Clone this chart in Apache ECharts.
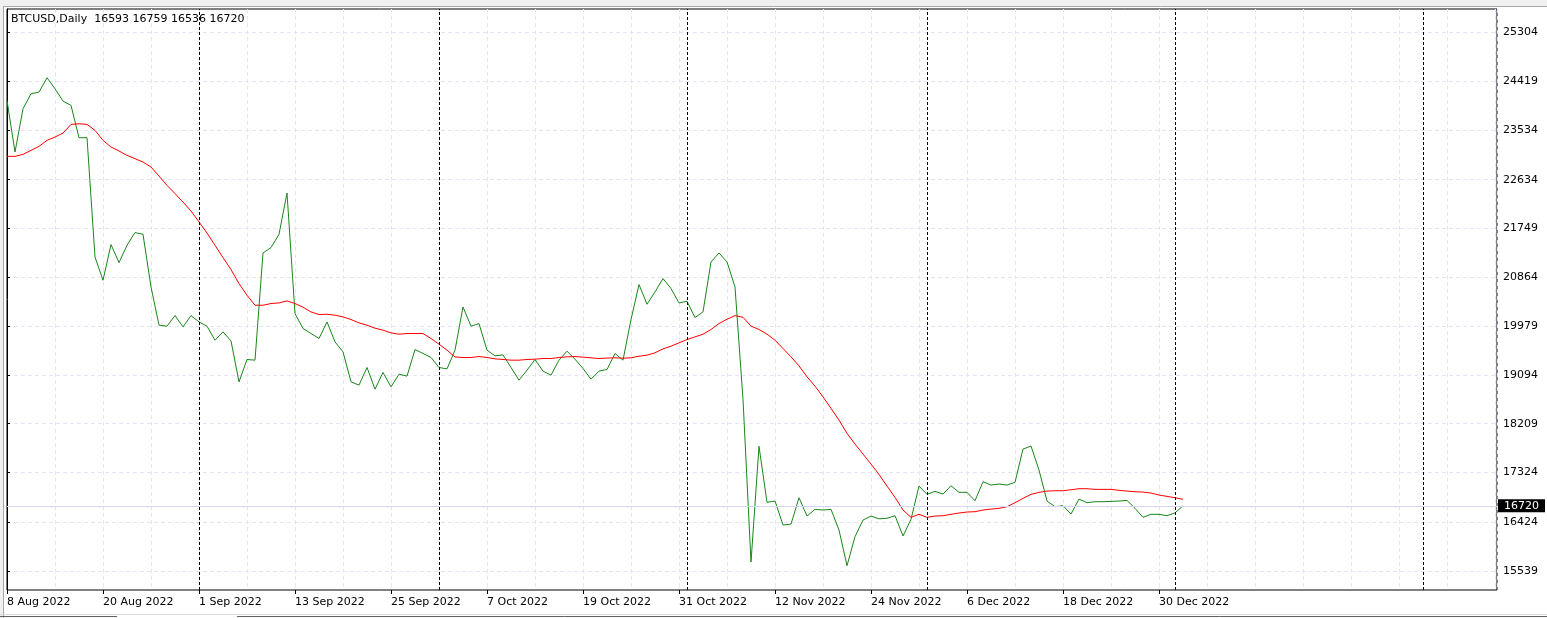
<!DOCTYPE html>
<html><head><meta charset="utf-8">
<script src="https://cdn.jsdelivr.net/npm/echarts@6/dist/echarts.min.js"></script>
<style>html,body{margin:0;padding:0;background:#fff;overflow:hidden}#c{width:1547px;height:618px}</style>
</head><body><div id="c"></div><script>
const headerText = 'BTCUSD,Daily  16593 16759 16536 16720';
// x tick labels, one every 12 daily bars starting at bar 0
const xTickLabels = ['8 Aug 2022','20 Aug 2022','1 Sep 2022','13 Sep 2022','25 Sep 2022','7 Oct 2022','19 Oct 2022','31 Oct 2022','12 Nov 2022','24 Nov 2022','6 Dec 2022','18 Dec 2022','30 Dec 2022'];
const yTickValues = [15539,16424,17324,18209,19094,19979,20864,21749,22634,23534,24419,25304];
// daily closes (bar 0 = 8 Aug 2022)
const closePrices = [24072,23136,23922,24193,24223,24483,24284,24060,23982,23396,
23396,21233,20811,21458,21131,21445,21676,21644,20690,19996,
19978,20171,19965,20171,20056,19978,19724,19875,19711,18968,
19374,19362,21306,21403,21644,22392,20207,19936,19845,19755,
20056,19693,19512,18968,18909,19229,18836,19139,18878,19108,
19072,19555,19483,19411,19229,19204,19543,20327,19978,20026,
19543,19440,19458,19229,18999,19181,19374,19163,19090,19362,
19525,19380,19211,19017,19163,19193,19483,19362,20099,20733,
20376,20599,20842,20661,20400,20430,20135,20237,21143,21306,
21143,20690,18650,15700,17800,16784,16807,16372,16390,16867,
16535,16657,16644,16657,16282,15635,16160,16463,16535,16485,
16494,16541,16173,16476,17079,16928,16983,16934,17085,16965,
16965,16813,17157,17097,17115,17097,17146,17750,17804,17369,
16807,16704,16722,16572,16843,16777,16795,16795,16801,16807,
16819,16675,16512,16566,16566,16541,16593,16720];
// moving average line
const movingAverage = [23058,23058,23094,23166,23239,23348,23408,23480,23637,23649,
23637,23529,23348,23227,23155,23076,23016,22955,22864,22700,
22532,22382,22230,22067,21868,21668,21445,21222,21005,20751,
20539,20358,20358,20389,20400,20436,20389,20322,20237,20189,
20195,20177,20147,20099,20038,19996,19942,19906,19857,19833,
19845,19845,19845,19755,19652,19543,19420,19410,19410,19428,
19410,19386,19374,19362,19362,19374,19380,19392,19392,19410,
19422,19428,19416,19404,19392,19400,19404,19398,19404,19434,
19452,19495,19567,19615,19676,19736,19784,19833,19918,20026,
20104,20170,20140,19980,19918,19833,19724,19573,19422,19259,
19060,18891,18697,18487,18275,18034,17840,17659,17478,17290,
17079,16874,16644,16512,16566,16512,16535,16541,16566,16590,
16608,16614,16644,16662,16675,16704,16777,16856,16928,16965,
16988,16994,16994,17012,17031,17031,17019,17019,17019,17001,
16988,16976,16970,16952,16916,16892,16867,16838];
// bars where a new month starts (period separators)
const monthSeparators = [24,54,85,115,146,177];
const lastPrice = 16720;

const FONT = 'DejaVu Sans';
const FS = 11;
const chart = echarts.init(document.getElementById('c'), null, {renderer:'canvas'});
const xLabelValues = xTickLabels.map((_, k) => k * 12);
chart.setOption({
  animation: false,
  backgroundColor: '#fff',
  textStyle: {fontFamily: FONT},
  grid: {left: 7, right: 50, top: 9, bottom: 28, show: true, borderColor: '#000', borderWidth: 1, backgroundColor: 'transparent'},
  graphic: [
    {type:'rect', shape:{x:0,y:0,width:1547,height:6}, style:{fill:'#f0f0f0'}, silent:true},
    {type:'line', shape:{x1:0,y1:6.5,x2:1547,y2:6.5}, style:{stroke:'#a8a8a8',lineWidth:1}, silent:true},
    {type:'rect', shape:{x:0,y:0,width:3,height:618}, style:{fill:'#f0f0f0'}, silent:true},
    {type:'line', shape:{x1:3.5,y1:6,x2:3.5,y2:618}, style:{stroke:'#a8a8a8',lineWidth:1}, silent:true},
    {type:'line', shape:{x1:0,y1:614.5,x2:1547,y2:614.5}, style:{stroke:'#d8d8d8',lineWidth:1}, silent:true},
    {type:'line', shape:{x1:0,y1:616.5,x2:117,y2:616.5}, style:{stroke:'#606060',lineWidth:1}, silent:true},
    {type:'line', shape:{x1:237,y1:616.5,x2:1547,y2:616.5}, style:{stroke:'#606060',lineWidth:1}, silent:true},
    {type:'text', left: 11, top: 14, z: 100, style:{text: headerText, fill:'#000', font: FS + 'px "' + FONT + '"'}}
  ],
  xAxis: [
    {type:'value', min:0, max:186.25, interval:6,
     axisLine:{show:false}, axisTick:{show:false}, axisLabel:{show:false},
     splitLine:{show:true, lineStyle:{color:'#e4e4f4', type:[4,3], width:1}}},
    {type:'value', min:0, max:186.25, position:'bottom',
     axisLine:{show:false},
     axisTick:{show:true, customValues: xLabelValues, length:4, lineStyle:{color:'#000'}},
     axisLabel:{show:true, customValues: xLabelValues, align:'left', margin:7,
       color:'#000', fontSize:FS, fontFamily: FONT,
       formatter: v => xTickLabels[Math.round(v/12)] || ''},
     splitLine:{show:false}}
  ],
  yAxis: {
    type:'value', position:'right', min:15194, max:25730, scale:true,
    axisLine:{show:true, lineStyle:{color:'#000'}},
    axisTick:{show:true, customValues: yTickValues, length:3, lineStyle:{color:'#000'}},
    axisLabel:{show:true, customValues: yTickValues, margin:6, color:'#000', fontSize:FS, fontFamily: FONT,
      formatter: v => String(Math.round(v))},
    splitLine:{show:true, lineStyle:{color:'#e4e4f4', type:[4,3], width:1}}
  },
  series: [
    {type:'line', xAxisIndex:0, data: closePrices.map((v,i)=>[i,v]), symbol:'none',
     lineStyle:{color:'#1a871a', width:1}, z:3,
     markLine:{silent:true, symbol:'none', animation:false,
       lineStyle:{color:'#d4d4f4', type:'solid', width:1},
       label:{show:true, position:'end', distance:1, formatter: String(lastPrice),
         color:'#fff', backgroundColor:'#000', padding:[1,6,0,6], fontSize:FS, fontFamily: FONT, lineHeight:12},
       data:[{yAxis:lastPrice}]}},
    {type:'line', xAxisIndex:0, data: movingAverage.map((v,i)=>[i,v]), symbol:'none',
     lineStyle:{color:'#ff0000', width:1}, z:4,
     markLine:{silent:true, symbol:'none', animation:false,
       lineStyle:{color:'#000', type:[3,2], width:1},
       label:{show:false},
       data: monthSeparators.map(d => ({xAxis:d}))}}
  ]
});
</script></body></html>
